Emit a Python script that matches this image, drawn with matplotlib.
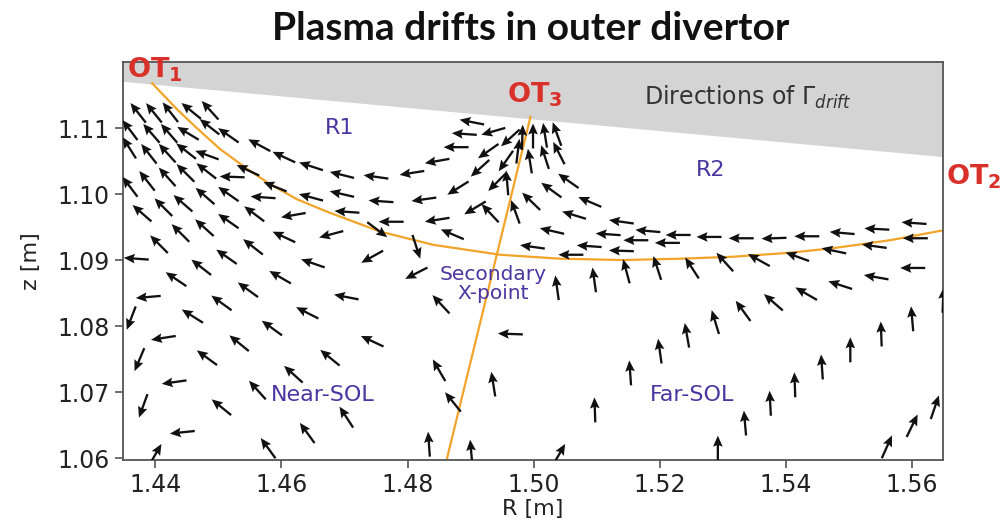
import numpy as np
import matplotlib
matplotlib.use("Agg")
import matplotlib.pyplot as plt

plt.rcParams["font.family"] = ["DejaVu Sans"]
plt.rcParams["mathtext.fontset"] = "dejavusans"

# drift direction field: arrow centres (R, z) and direction in degrees
R_arr = [
    # upper-left fan and R1 band
    1.4373, 1.4398, 1.4424, 1.4457, 1.4487, 1.4360, 1.4394, 1.4422, 1.4452, 1.4486,
    1.4516, 1.4565, 1.4604, 1.4647, 1.4696, 1.4750, 1.4807, 1.4847, 1.4877, 1.4890,
    1.4902, 1.4359, 1.4390, 1.4419, 1.4449, 1.4482, 1.4522, 1.4547, 1.4360, 1.4387,
    1.4419, 1.4448, 1.4481, 1.4590, 1.4647, 1.4696, 1.4758, 1.4826, 1.4379, 1.4413,
    1.4444, 1.4479, 1.4516, 1.4571, 1.4619, 1.4704, 1.4774, 1.4847, 1.4871, 1.4406,
    1.4440, 1.4478, 1.4516, 1.4557, 1.4604, 1.4679, 1.4752, 1.4814, 1.4370, 1.4473,
    1.4513, 1.4555, 1.4650, 1.4744, 1.4814,
    # near-SOL
    1.4433, 1.4389, 1.4362, 1.4459, 1.4505, 1.4547, 1.4598, 1.4641, 1.4413, 1.4375,
    1.4482, 1.4533, 1.4585, 1.4430, 1.4381, 1.4505, 1.4562, 1.4619, 1.4443, 1.4579,
    1.4641, 1.4400, 1.4703, 1.4853, 1.4744, 1.4677, 1.4850, 1.4936, 1.4872, 1.4703,
    1.4834, 1.4901, 1.4963,
    # around the secondary X-point
    1.4936, 1.4963, 1.4928, 1.4915, 1.4880, 1.4907, 1.4931, 1.4942, 1.4956, 1.4982,
    1.4999, 1.5018, 1.5037, 1.4975, 1.4994, 1.5018, 1.5040, 1.4958, 1.4971, 1.5055,
    1.5028, 1.4996, 1.5089, 1.5064, 1.5029, 1.4998,
    # R2
    1.5139, 1.5181, 1.5118, 1.5088, 1.5162, 1.5139, 1.5212, 1.5229, 1.5278, 1.5059,
    1.5329, 1.5381, 1.5433, 1.5489, 1.5544, 1.5603, 1.5605,
    # far-SOL
    1.5540, 1.5476, 1.5418, 1.5357, 1.5303, 1.5251, 1.5196, 1.5147, 1.5096, 1.5037,
    1.5601, 1.5543, 1.5486, 1.5432, 1.5380, 1.5332, 1.5288, 1.5243, 1.5200, 1.5153,
    1.5097, 1.5600, 1.5551, 1.5502, 1.5457, 1.5414, 1.5375, 1.5335, 1.5292, 1.5636,
    1.5600, 1.5560, 1.5649, 1.5040,
]
z_arr = [
    1.1123, 1.1123, 1.1124, 1.1126, 1.1127, 1.1097, 1.1092, 1.1092, 1.1092, 1.1102,
    1.1089, 1.1074, 1.1056, 1.1042, 1.1029, 1.1026, 1.1032, 1.1050, 1.1071, 1.1091,
    1.1109, 1.1070, 1.1061, 1.1062, 1.1065, 1.1059, 1.1026, 1.1036, 1.1011, 1.1020,
    1.1026, 1.1032, 1.1035, 1.1011, 1.0995, 1.1000, 1.0989, 1.0992, 1.0971, 1.0980,
    1.0986, 1.0997, 1.1000, 1.0995, 1.0968, 1.0973, 1.0958, 1.0961, 1.0939, 1.0924,
    1.0941, 1.0949, 1.0959, 1.0970, 1.0935, 1.0939, 1.0946, 1.0920, 1.0902, 1.0889,
    1.0905, 1.0920, 1.0895, 1.0905, 1.0880,
    1.0871, 1.0844, 1.0812, 1.0815, 1.0835, 1.0855, 1.0874, 1.0820, 1.0782, 1.0749,
    1.0752, 1.0774, 1.0797, 1.0715, 1.0679, 1.0677, 1.0703, 1.0727, 1.0639, 1.0615,
    1.0638, 1.0605, 1.0844, 1.0833, 1.0777, 1.0752, 1.0733, 1.0712, 1.0685, 1.0662,
    1.0621, 1.0609, 1.0788,
    1.1095, 1.1085, 1.1065, 1.1039, 1.1009, 1.0979, 1.0971, 1.1018, 1.1050, 1.1086,
    1.1088, 1.1089, 1.1091, 1.1065, 1.1050, 1.1056, 1.1062, 1.1017, 1.0973, 1.1020,
    1.1006, 1.0989, 1.0988, 1.0968, 1.0944, 1.0920,
    1.0958, 1.0944, 1.0939, 1.0921, 1.0930, 1.0914, 1.0926, 1.0938, 1.0935, 1.0908,
    1.0933, 1.0933, 1.0936, 1.0941, 1.0947, 1.0956, 1.0933,
    1.0921, 1.0914, 1.0905, 1.0900, 1.0897, 1.0888, 1.0888, 1.0883, 1.0870, 1.0858,
    1.0888, 1.0874, 1.0862, 1.0849, 1.0836, 1.0823, 1.0806, 1.0786, 1.0762, 1.0729,
    1.0673, 1.0811, 1.0788, 1.0764, 1.0738, 1.0711, 1.0683, 1.0653, 1.0615, 1.0677,
    1.0649, 1.0617, 1.0839, 1.0605,
]
ang_arr = [
    128, 129, 128, 141, 132, 127, 131, 131, 149, 142,
    145, 152, 155, 162, 166, 172, 189, 190, 180, 176,
    169, 122, 128, 132, 142, 160, 178, 155, 127, 128,
    132, 135, 142, 158, 165, 167, 176, 188, 139, 135,
    139, 139, 145, 176, 190, 176, 180, 189, 157, 135,
    135, 138, 145, 143, 155, 195, 323, 288, 176, 142,
    145, 142, 161, 209, 207,
    146, 185, 249, 148, 144, 144, 150, 153, 189, 247,
    144, 141, 144, 188, 250, 141, 132, 138, 186, 126,
    126, 60, 169, 133, 155, 141, 120, 99, 129, 123,
    94, 95, 178,
    196, 222, 215, 222, 212, 211, 133, 225, 235, 88,
    90, 99, 110, 83, 99, 108, 117, 95, 110, 145,
    144, 136, 157, 163, 167, 172,
    172, 175, 176, 176, 180, 178, 180, 180, 180, 180,
    180, 182, 180, 175, 177, 176, 180,
    172, 168, 160, 151, 132, 123, 108, 105, 98, 98,
    180, 170, 162, 150, 139, 126, 107, 100, 98, 94,
    92, 95, 92, 90, 94, 92, 93, 95, 90, 71,
    64, 66, 88, 60,
]

# separatrix leg and the line through the secondary X-point
sep_R = [1.4395, 1.4435, 1.4467, 1.4503, 1.4546, 1.4582, 1.4625, 1.4673, 1.4757,
         1.4841, 1.4947, 1.5042, 1.5142, 1.5232, 1.5316, 1.5406, 1.5475, 1.5565, 1.5649]
sep_z = [1.1168, 1.1128, 1.1099, 1.1068, 1.1038, 1.1015, 1.0992, 1.0973, 1.0943,
         1.0923, 1.0908, 1.0902, 1.0900, 1.0902, 1.0905, 1.0911, 1.0918, 1.0930, 1.0945]
xline_R = [1.4995, 1.4862]
xline_z = [1.1117, 1.0597]

# target plate edge (shaded)
plate_R = [1.4349, 1.5649]
plate_z = [1.1170, 1.1056]

xlim = (1.4349, 1.5649)
ylim = (1.0597, 1.1200)

label_col = "#4b35a0"
red = "#d9302a"

fig = plt.figure(figsize=(10.01, 5.27), dpi=100)
ax = fig.add_axes([0.1229, 0.1271, 0.8192, 0.7552])

ax.fill([plate_R[0], plate_R[1], plate_R[1], plate_R[0]],
        [plate_z[0], plate_z[1], ylim[1], ylim[1]],
        color="#d4d4d4", lw=0, zorder=1)

ax.plot(sep_R, sep_z, color="#f2a42a", lw=1.6, zorder=2)
ax.plot(xline_R, xline_z, color="#f2a42a", lw=1.6, zorder=2)

n = len(ang_arr)
ax.quiver(R_arr, z_arr, np.ones(n), np.zeros(n), angles=np.array(ang_arr, float),
          units="dots", width=2.3, scale_units="dots", scale=1 / 25.0,
          headwidth=4.2, headlength=4.8, headaxislength=4.2,
          pivot="middle", color="#111111", zorder=3)

ax.set_xlim(*xlim)
ax.set_ylim(*ylim)
ax.set_xticks([1.44, 1.46, 1.48, 1.50, 1.52, 1.54, 1.56])
ax.set_yticks([1.06, 1.07, 1.08, 1.09, 1.10, 1.11])
ax.xaxis.set_major_formatter(matplotlib.ticker.FormatStrFormatter("%.2f"))
ax.yaxis.set_major_formatter(matplotlib.ticker.FormatStrFormatter("%.2f"))
ax.tick_params(labelsize=17, length=6, width=1.2, color="#555555", labelcolor="#222222")
for s in ax.spines.values():
    s.set_color("#555555")
    s.set_linewidth(1.3)
ax.set_xlabel("R [m]", fontsize=16, color="#222222", labelpad=1)
ax.set_ylabel("z [m]", fontsize=16, color="#222222", labelpad=12)

# region labels
ax.text(1.4693, 1.1100, "R1", color=label_col, fontsize=16, ha="center", va="center", zorder=4)
ax.text(1.5280, 1.1036, "R2", color=label_col, fontsize=16, ha="center", va="center", zorder=4)
ax.text(1.4936, 1.0864, "Secondary\nX-point", color=label_col, fontsize=14.5,
        ha="center", va="center", linespacing=1.0, zorder=4)
ax.text(1.4666, 1.0695, "Near-SOL", color=label_col, fontsize=16, ha="center", va="center", zorder=4)
ax.text(1.5251, 1.0695, "Far-SOL", color=label_col, fontsize=16, ha="center", va="center", zorder=4)
ax.text(1.5340, 1.1146, r"Directions of $\Gamma_{drift}$", color="#333333", fontsize=17,
        ha="center", va="center", zorder=4)

# strike point markers
for r, z, s in [(1.4356, 1.1176, "1"), (1.4958, 1.1138, "3"), (1.5654, 1.1014, "2")]:
    ax.text(r, z, r"$\mathbf{OT_{%s}}$" % s, color=red, fontsize=19.5, ha="left",
            va="baseline", clip_on=False, zorder=5)

fig.text(0.530, 0.924, "Plasma drifts in outer divertor", fontsize=28, fontweight="bold",
         family="Lato", ha="center", va="baseline", color="#111111")

fig.savefig("out.png", dpi=100)
